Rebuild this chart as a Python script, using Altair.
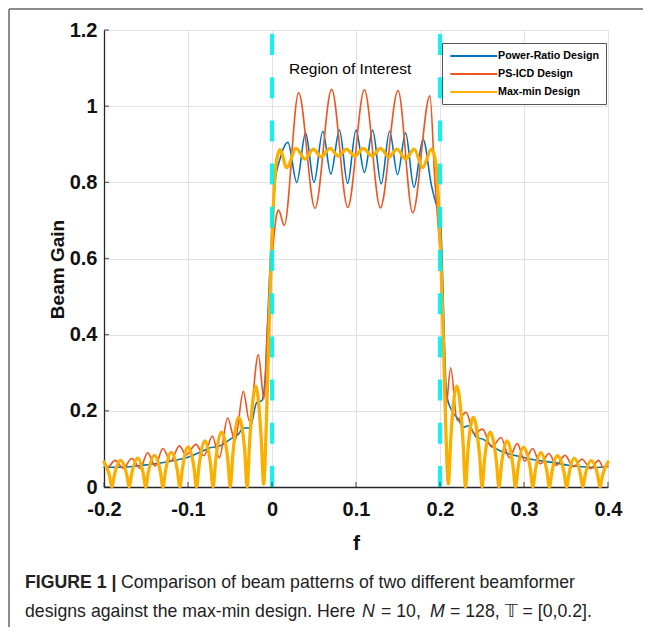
import altair as alt
import pandas as pd

# ---------------- data ----------------
series_names = ["Power-Ratio Design", "PS-ICD Design", "Max-min Design"]
series_colors = ["#0072BD", "#EE5520", "#FBB000"]
series_widths = [1.6, 1.6, 3.3]

# Power-Ratio Design (blue)
pr_f = [-0.2, -0.18, -0.165, -0.15, -0.133, -0.118, -0.1, -0.0857, -0.0738, -0.062,
        -0.05, -0.04, -0.034, -0.0262, -0.0182, -0.0123, -0.0083, -0.0056, -0.003, 0.0,
        0.0036, 0.0095, 0.019, 0.0295, 0.040, 0.050, 0.0605, 0.070, 0.0803, 0.090,
        0.100, 0.110, 0.1198, 0.130, 0.140, 0.1495, 0.159, 0.169, 0.1798, 0.190,
        0.1952, 0.2, 0.2025, 0.205, 0.2075, 0.211, 0.2218, 0.2278, 0.2337, 0.2437,
        0.2516, 0.2615, 0.2714, 0.2833, 0.2952, 0.31, 0.3366, 0.353, 0.369, 0.385, 0.4]
pr_g = [0.052, 0.052, 0.054, 0.058, 0.063, 0.069, 0.078, 0.091, 0.103, 0.108,
        0.125, 0.139, 0.155, 0.155, 0.222, 0.226, 0.28, 0.41, 0.55, 0.68,
        0.80, 0.861, 0.905, 0.80, 0.93, 0.80, 0.934, 0.822, 0.937, 0.797,
        0.937, 0.826, 0.937, 0.796, 0.934, 0.82, 0.93, 0.787, 0.913, 0.79,
        0.745, 0.72, 0.60, 0.40, 0.25, 0.215, 0.178, 0.157, 0.161, 0.13,
        0.125, 0.108, 0.095, 0.086, 0.08, 0.072, 0.064, 0.057, 0.053, 0.051, 0.053]

# PS-ICD Design (orange)
ps_f = [-0.2, -0.1955, -0.1869, -0.177, -0.167, -0.157, -0.148, -0.139, -0.130, -0.1206,
        -0.1103, -0.1024, -0.0905, -0.081, -0.071, -0.0627, -0.0528, -0.044, -0.0341, -0.027,
        -0.0163, -0.0095, -0.0056, -0.002, 0.0016, 0.0055, 0.0078, 0.0146, 0.0317, 0.0512,
        0.071, 0.0902, 0.110, 0.129, 0.150, 0.1675, 0.188, 0.194, 0.198, 0.2015,
        0.204, 0.207, 0.2127, 0.2205, 0.2312, 0.2405, 0.2505, 0.2615, 0.2727, 0.2825,
        0.292, 0.3008, 0.3102, 0.3195, 0.3297, 0.3386, 0.3488, 0.3589, 0.3691, 0.3792,
        0.3886, 0.3955, 0.4]
ps_g = [0.062, 0.052, 0.070, 0.049, 0.075, 0.049, 0.090, 0.055, 0.101, 0.068,
        0.108, 0.084, 0.112, 0.082, 0.134, 0.077, 0.181, 0.121, 0.251, 0.174,
        0.347, 0.231, 0.41, 0.53, 0.64, 0.715, 0.727, 0.687, 1.035, 0.732,
        1.044, 0.734, 1.043, 0.733, 1.041, 0.72, 1.027, 0.80, 0.68, 0.56,
        0.38, 0.21, 0.313, 0.175, 0.196, 0.14, 0.152, 0.105, 0.13, 0.077,
        0.114, 0.068, 0.101, 0.061, 0.088, 0.057, 0.083, 0.053, 0.073, 0.048,
        0.070, 0.048, 0.061]

# Max-min Design (yellow)
mm_f = [-0.2, -0.1936, -0.1906, -0.1876, -0.1803, -0.173, -0.170, -0.167, -0.1598, -0.1533,
        -0.1503, -0.1473, -0.140, -0.1328, -0.1298, -0.1268, -0.120, -0.1127, -0.1097, -0.1067,
        -0.0998, -0.0929, -0.0899, -0.0869, -0.0797, -0.0732, -0.0702, -0.0672, -0.060, -0.0527,
        -0.0497, -0.0467, -0.0398, -0.0326, -0.0296, -0.0266, -0.0193, -0.0129, -0.0099, -0.007,
        -0.004, -0.001, 0.002, 0.005, 0.0094, 0.0176, 0.0287, 0.0393, 0.0492, 0.0586,
        0.0689, 0.0791, 0.0885, 0.0988, 0.1086, 0.1193, 0.1291, 0.1393, 0.1488, 0.159,
        0.1693, 0.1795, 0.1898, 0.195, 0.198, 0.201, 0.204, 0.207, 0.2099, 0.2129,
        0.2201, 0.2274, 0.2304, 0.2334, 0.2398, 0.2471, 0.2501, 0.2531, 0.2596, 0.2672,
        0.2702, 0.2732, 0.2797, 0.2869, 0.2899, 0.2929, 0.2994, 0.3075, 0.3105, 0.3135,
        0.3199, 0.3272, 0.3302, 0.3332, 0.3396, 0.3477, 0.3507, 0.3537, 0.3598, 0.367,
        0.370, 0.373, 0.3799, 0.3876, 0.3906, 0.3936, 0.4]
mm_g = [0.066, 0.031, 0.0, 0.032, 0.070, 0.033, 0.0, 0.035, 0.076, 0.036,
        0.0, 0.038, 0.083, 0.039, 0.0, 0.042, 0.091, 0.044, 0.0, 0.048,
        0.105, 0.051, 0.0, 0.055, 0.121, 0.060, 0.0, 0.066, 0.144, 0.074,
        0.0, 0.083, 0.183, 0.100, 0.0, 0.12, 0.265, 0.13, 0.008, 0.15,
        0.38, 0.60, 0.76, 0.85, 0.886, 0.839, 0.889, 0.861, 0.887, 0.867,
        0.889, 0.869, 0.887, 0.869, 0.889, 0.869, 0.889, 0.867, 0.887, 0.861,
        0.887, 0.839, 0.887, 0.85, 0.76, 0.60, 0.38, 0.15, 0.008, 0.13,
        0.265, 0.12, 0.0, 0.10, 0.183, 0.083, 0.0, 0.074, 0.144, 0.066,
        0.0, 0.060, 0.121, 0.055, 0.0, 0.051, 0.104, 0.048, 0.0, 0.044,
        0.090, 0.042, 0.0, 0.039, 0.082, 0.038, 0.0, 0.036, 0.075, 0.035,
        0.0, 0.033, 0.069, 0.032, 0.0, 0.031, 0.066]

x_ticks = [-0.2, -0.1, 0, 0.1, 0.2, 0.3, 0.4]
y_ticks = [0, 0.2, 0.4, 0.6, 0.8, 1.0, 1.2]
roi_edges = [0.0, 0.2]
roi_label = ["Region of Interest"]
roi_label_pos = [0.093, 1.098]

caption_bold = "FIGURE 1 |"
caption_line1 = "Comparison of beam patterns of two different beamformer"
caption_line2 = ["designs against the max-min design. Here", "N", "= 10,", "M", "= 128, \U0001D54B = [0,0.2]."]

# ---------------- build tables ----------------
rows = []
for name, w, fs, gs in zip(series_names, series_widths, [pr_f, ps_f, mm_f], [pr_g, ps_g, mm_g]):
    for f, g in zip(fs, gs):
        rows.append({"Design": name, "f": f, "gain": g, "w": w})
df = pd.DataFrame(rows)

SANS = "Liberation Sans, Arial, Helvetica"
AX = "#262626"

x_scale = alt.Scale(domain=[-0.2, 0.4], nice=False, zero=False)
y_scale = alt.Scale(domain=[0, 1.2], nice=False, zero=False)

legend = alt.Legend(
    orient="none", legendX=338, legendY=13, title=None,
    symbolType="M-1,0H9", symbolSize=88, symbolStrokeWidth=2.2,
    labelOffset=37, labelFont=SANS, labelFontSize=10.7, labelFontWeight="bold",
    labelColor="black", padding=7, rowPadding=7,
    strokeColor="#555555", fillColor="white",
)

x_axis = alt.Axis(values=x_ticks, labelExpr="'' + datum.value", title="f",
                  labelFont=SANS, labelFontSize=20, labelFontWeight="bold", labelColor="#111111",
                  labelPadding=12, labelFlush=False, labelOverlap=False, ticks=False,
                  domainColor=AX, domainWidth=1.3, gridColor="#e2e2e2", gridWidth=1,
                  titleFont=SANS, titleFontSize=21, titleFontWeight="bold", titleColor="#111111",
                  titleX=252, titleY=56, titleAlign="center", titleBaseline="middle")
y_axis = alt.Axis(values=y_ticks, labelExpr="'' + datum.value", title="Beam Gain",
                  labelFont=SANS, labelFontSize=20, labelFontWeight="bold", labelColor="#111111",
                  labelPadding=7, labelFlush=False, labelOverlap=False, ticks=False,
                  domainColor=AX, domainWidth=1.3, gridColor="#e2e2e2", gridWidth=1,
                  titleFont=SANS, titleFontSize=19, titleFontWeight="bold", titleColor="#111111",
                  titleX=-47, titleY=239, titleAngle=270, titleAlign="center", titleBaseline="middle")

ex = alt.X("f:Q", scale=x_scale, axis=x_axis)
ey = alt.Y("gain:Q", scale=y_scale, axis=y_axis)

color_enc = alt.Color("Design:N", scale=alt.Scale(domain=series_names, range=series_colors), legend=legend)

base = alt.Chart(df)
line_layers = []
for name in series_names:
    line_layers.append(
        base.transform_filter(alt.datum.Design == name)
        .mark_line(interpolate="monotone", strokeJoin="round", strokeCap="round")
        .encode(x=ex, y=ey, color=color_enc, strokeWidth=alt.StrokeWidth("w:Q", scale=None, legend=None))
    )

roi_df = pd.DataFrame({"f": roi_edges, "gain": [0.0] * len(roi_edges), "g1": [1.2] * len(roi_edges)})
roi = alt.Chart(roi_df).mark_rule(color="#00F0F0", strokeWidth=4.2, strokeDash=[21, 22.2], opacity=0.9).encode(
    x=ex, y=ey, y2="g1:Q",
)

roi_txt_df = pd.DataFrame({"f": [roi_label_pos[0]], "gain": [roi_label_pos[1]], "t": roi_label})
roi_txt = alt.Chart(roi_txt_df).mark_text(font=SANS, fontSize=15.5, color="black",
                                           align="center", baseline="middle").encode(
    x=ex, y=ey, text="t:N",
)

xt_df = pd.DataFrame({"f": x_ticks, "gain": [0.0] * len(x_ticks)})
xt = alt.Chart(xt_df).mark_tick(orient="vertical", size=5, thickness=1.2, yOffset=-2.5, color=AX).encode(
    x=ex, y=ey)
yt_df = pd.DataFrame({"f": [-0.2] * len(y_ticks), "gain": y_ticks})
yt = alt.Chart(yt_df).mark_tick(orient="horizontal", size=5, thickness=1.2, xOffset=2.5, color=AX).encode(
    x=ex, y=ey)

one = pd.DataFrame({"k": [0]})
frame_top = alt.Chart(one).mark_rule(color="#8c8c8c", strokeWidth=2).encode(
    x=alt.value(-95), x2=alt.value(560), y=alt.value(-21))
frame_left = alt.Chart(one).mark_rule(color="#8c8c8c", strokeWidth=2).encode(
    x=alt.value(-95), y=alt.value(-21), y2=alt.value(620))

CAP = 17.7
cap_color = "#222222"
cap1a = alt.Chart(one).mark_text(font=SANS, fontSize=CAP, fontWeight="bold", color=cap_color,
                                 align="left", baseline="middle").encode(
    x=alt.value(-79), y=alt.value(553), text=alt.value(caption_bold))
cap1b = alt.Chart(one).mark_text(font=SANS, fontSize=CAP, color=cap_color,
                                 align="left", baseline="middle").encode(
    x=alt.value(17), y=alt.value(553), text=alt.value(caption_line1))
cap2_x = [-79, 258, 277, 326, 346]
cap2_style = ["normal", "italic", "normal", "italic", "normal"]
cap2 = []
for txt, xx, st in zip(caption_line2, cap2_x, cap2_style):
    cap2.append(alt.Chart(one).mark_text(font=SANS, fontSize=CAP, fontStyle=st, color=cap_color,
                                         align="left", baseline="middle").encode(
        x=alt.value(xx), y=alt.value(582), text=alt.value(txt)))

chart = alt.layer(
    *line_layers, roi, roi_txt, xt, yt, frame_top, frame_left, cap1a, cap1b, *cap2
).properties(
    width=504, height=457,
    autosize=alt.AutoSizeParams(type="none"),
    padding={"left": 96, "top": 22, "right": 35, "bottom": 140},
).configure_view(strokeWidth=0).configure(background="white")

chart.save("out.html", embed_options={"renderer": "svg", "actions": False})
